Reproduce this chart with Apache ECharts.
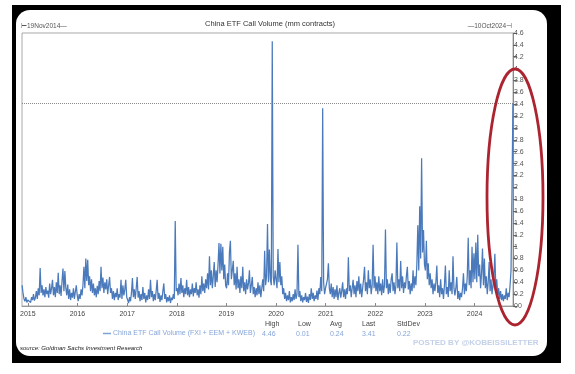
<!DOCTYPE html>
<html><head><meta charset="utf-8">
<script src="https://cdn.jsdelivr.net/npm/echarts@6/dist/echarts.min.js"></script>
<style>html,body{margin:0;padding:0;background:#fff}#c{width:575px;height:374px}</style>
</head><body><div id="c"></div>
<script>
// ---- text ----
const chartTitle = 'China ETF Call Volume (mm contracts)';
const seriesName = 'China ETF Call Volume (FXI + EEM + KWEB)';
const startLabel = '19Nov2014';
const endLabel = '10Oct2024';
const statNames = ['High', 'Low', 'Avg', 'Last', 'StdDev'];
const statValues = ['4.46', '0.01', '0.24', '3.41', '0.22'];
const lastValue = 3.41;
const sourceText = 'source: Goldman Sachs Investment Research';
const watermark = 'POSTED BY @KOBEISSILETTER';
const yMin = 0, yMax = 4.6, yStep = 0.2;
const xStart = [2014, 10, 19], xEnd = [2024, 9, 10];

// ---- weekly values (mm contracts), each year starts at its first listed date ----
const segStarts = [[2014,10,19],[2015,0,7],[2016,0,6],[2017,0,4],[2018,0,3],[2019,0,2],[2020,0,1],[2021,0,6],[2022,0,5],[2023,0,4],[2024,0,3]];
const v2014 = [0.35,0.22,0.12,0.08,0.15,0.06,0.1];
const v2015 = [0.08,0.12,0.06,0.15,0.1,0.2,0.09,0.14,0.25,0.12,0.3,0.18,0.64,0.22,0.35,0.18,0.28,0.15,0.32,0.2,0.26,0.14,0.38,0.2,0.3,0.44,0.18,0.32,0.15,0.4,0.22,0.56,0.2,0.35,0.17,0.42,0.63,0.25,0.59,0.3,0.18,0.36,0.12,0.28,0.1,0.22,0.14,0.3,0.12,0.24,0.35,0.18];
const v2016 = [0.08,0.2,0.12,0.28,0.18,0.35,0.66,0.3,0.8,0.42,0.78,0.35,0.5,0.25,0.45,0.22,0.38,0.18,0.3,0.15,0.34,0.2,0.42,0.25,0.66,0.3,0.48,0.22,0.4,0.28,0.45,0.2,0.35,0.49,0.22,0.3,0.12,0.25,0.1,0.22,0.15,0.3,0.1,0.2,0.14,0.44,0.12,0.35,0.18,0.28,0.44,0.15];
const v2017 = [0.1,0.05,0.15,0.08,0.22,0.47,0.15,0.28,0.12,0.3,0.49,0.14,0.25,0.08,0.2,0.1,0.32,0.12,0.22,0.06,0.18,0.1,0.28,0.12,0.44,0.15,0.25,0.08,0.2,0.1,0.26,0.44,0.12,0.22,0.07,0.18,0.1,0.25,0.38,0.12,0.2,0.06,0.15,0.08,0.18,0.05,0.14,0.1,0.2,0.12,1.43,0.25];
const v2018 = [0.3,0.18,0.38,0.2,0.47,0.22,0.35,0.15,0.3,0.2,0.44,0.18,0.32,0.15,0.28,0.2,0.38,0.16,0.3,0.22,0.4,0.18,0.28,0.14,0.35,0.2,0.5,0.25,0.38,0.22,0.45,0.3,0.55,0.28,0.84,0.35,0.6,0.3,0.5,0.74,0.32,0.6,0.4,0.7,1.06,0.55,1.05,0.6,1.0,0.45,0.7,0.35];
const v2019 = [0.3,0.55,0.35,0.91,1.1,0.45,0.6,0.76,0.35,0.55,0.28,0.66,0.3,0.45,0.22,0.5,0.3,0.66,0.25,0.4,0.2,0.45,0.28,0.38,0.6,0.22,0.35,0.49,0.2,0.32,0.15,0.3,0.18,0.4,0.2,0.35,0.15,0.3,0.45,0.25,0.93,0.35,0.5,1.38,0.4,0.95,0.45,0.35,4.46,0.5,0.35,0.6];
const v2020 = [0.45,0.3,0.96,0.4,0.74,0.35,0.5,0.2,0.3,0.12,0.22,0.08,0.18,0.1,0.25,0.06,0.15,0.08,0.2,0.1,0.28,0.12,0.2,1.03,0.15,0.25,0.08,0.18,0.06,0.15,0.1,0.22,0.07,0.16,0.05,0.2,0.1,0.3,0.12,0.22,0.08,0.18,0.12,0.26,0.1,0.3,0.2,0.49,0.25,3.33,0.4,0.2,0.3];
const v2021 = [0.3,0.45,0.72,0.3,0.2,0.38,0.15,0.32,0.12,0.28,0.15,0.35,0.1,0.22,0.3,0.14,0.25,0.4,0.15,0.28,0.12,0.3,0.2,0.82,0.25,0.35,0.15,0.3,0.44,0.2,0.35,0.15,0.42,0.25,0.5,0.2,0.38,0.15,0.3,0.45,0.66,0.25,0.4,0.2,0.6,0.3,0.45,0.2,0.35,1.03,0.3,0.5];
const v2022 = [0.25,0.4,0.2,0.5,0.25,0.38,0.18,0.45,0.22,0.35,1.29,0.3,0.45,0.2,0.38,0.22,0.45,0.55,0.25,0.4,0.2,0.35,1.07,0.3,0.45,0.25,0.76,0.3,0.5,0.22,0.4,0.3,0.5,0.66,0.28,0.42,0.2,0.38,0.25,0.6,0.3,0.5,0.35,0.7,1.36,0.6,1.68,0.8,2.49,0.9,1.28,0.7];
const v2023 = [0.6,1.1,0.45,0.72,0.35,0.55,0.3,0.45,0.2,0.38,0.25,0.4,0.68,0.22,0.35,0.15,0.45,0.2,0.3,0.12,0.35,0.68,0.2,0.32,0.15,0.6,0.25,0.4,0.2,0.84,0.3,0.18,0.3,0.49,0.12,0.25,0.1,0.22,0.15,0.3,0.55,0.2,0.38,0.25,0.5,1.15,0.35,0.6,0.3,1.0,0.4,0.89];
const v2024 = [0.45,1.07,0.4,1.2,0.5,0.7,0.3,0.55,0.97,0.35,0.8,0.3,0.5,0.2,0.4,0.74,0.25,0.45,0.2,0.35,0.5,0.88,0.3,0.45,0.18,0.3,0.12,0.25,0.1,0.2,0.08,0.18,0.12,0.3,0.1,0.22,0.15,0.35,0.6,1.92,3.41];
const yearValues = [v2014,v2015,v2016,v2017,v2018,v2019,v2020,v2021,v2022,v2023,v2024];

const DAY = 86400000;
const data = [];
yearValues.forEach((vals, k) => {
  const s = segStarts[k];
  const t0 = new Date(s[0], s[1], s[2], 12).getTime();
  vals.forEach((v, i) => data.push([t0 + i * 7 * DAY, v]));
});
const xMinT = new Date(xStart[0], xStart[1], xStart[2]).getTime();
const xMaxT = new Date(xEnd[0], xEnd[1], xEnd[2]).getTime();

const FONT = '"Liberation Sans", Arial, sans-serif';
const chart = echarts.init(document.getElementById('c'), null, {renderer: 'canvas'});

const statX = [265, 298, 330, 362, 397];
const graphics = [
  {type: 'rect', z: -20, shape: {x: 12, y: 5, width: 549, height: 358}, style: {fill: '#000'}},
  {type: 'rect', z: -19, shape: {x: 16, y: 10, width: 531, height: 346, r: 14}, style: {fill: '#fff'}},
  {type: 'text', x: 270, y: 24, style: {text: chartTitle, font: '7.5px ' + FONT, fill: '#333', align: 'center', verticalAlign: 'middle'}},
  {type: 'text', x: 21, y: 26.5, style: {text: '\u22A2' + startLabel + '\u2014', font: '6.5px ' + FONT, fill: '#555', align: 'left', verticalAlign: 'middle'}},
  {type: 'text', x: 512, y: 26.5, style: {text: '\u2014' + endLabel + '\u22A3', font: '6.5px ' + FONT, fill: '#555', align: 'right', verticalAlign: 'middle'}},
  {type: 'line', shape: {x1: 103, y1: 333.5, x2: 111, y2: 333.5}, style: {stroke: '#7fa2d6', lineWidth: 1.5}},
  {type: 'text', x: 113, y: 333.5, style: {text: seriesName, font: '7px ' + FONT, fill: '#86a6d9', align: 'left', verticalAlign: 'middle'}},
  {type: 'text', x: 20, y: 348.5, style: {text: sourceText, font: 'italic 6px ' + FONT, fill: '#222', align: 'left', verticalAlign: 'middle'}},
  {type: 'text', x: 413, y: 343, style: {text: watermark, font: 'bold 8px ' + FONT, fill: '#c2d0e8', align: 'left', verticalAlign: 'middle'}},
  {type: 'ellipse', z: 100, shape: {cx: 515, cy: 197, rx: 28, ry: 128}, style: {fill: 'none', stroke: '#ab2430', lineWidth: 2.8}}
];
statNames.forEach((n, i) => {
  graphics.push({type: 'text', x: statX[i], y: 324, style: {text: n, font: '7px ' + FONT, fill: '#444', align: 'left', verticalAlign: 'middle'}});
  graphics.push({type: 'text', x: statX[i] - (i === 0 ? 3 : (i === 1 ? 2 : 0)), y: 334, style: {text: statValues[i], font: '7px ' + FONT, fill: '#86a6d9', align: 'left', verticalAlign: 'middle'}});
});

const yLabelFmt = function (v) { return String(Math.round(v * 10) / 10); };

chart.setOption({
  animation: false,
  backgroundColor: '#fff',
  grid: {left: 22, right: 62, top: 33, bottom: 68, show: true, borderColor: '#a8a8a8', borderWidth: 1},
  xAxis: {
    type: 'time', min: xMinT, max: xMaxT,
    splitNumber: 10,
    minInterval: 360 * DAY,
    axisLine: {show: true, lineStyle: {color: '#999'}},
    axisTick: {show: true, inside: true, length: 3, lineStyle: {color: '#888'}},
    splitLine: {show: false},
    axisLabel: {
      fontSize: 7, color: '#444', fontFamily: FONT, margin: 5,
      showMinLabel: false, showMaxLabel: false,
      formatter: function (val) {
        const d = new Date(val);
        return (d.getMonth() === 0 && d.getDate() === 1) ? String(d.getFullYear()) : '';
      }
    }
  },
  yAxis: {
    type: 'value', position: 'right', min: yMin, max: yMax, interval: yStep,
    axisLine: {show: true, lineStyle: {color: '#888'}},
    axisTick: {show: true, length: 4, lineStyle: {color: '#666'}},
    splitLine: {show: false},
    axisLabel: {fontSize: 7, color: '#555', fontFamily: FONT, margin: 1, showMinLabel: true, showMaxLabel: true, formatter: yLabelFmt}
  },
  series: [{
    type: 'line', name: seriesName, data: data, showSymbol: false, symbol: 'none',
    lineStyle: {color: '#4a7abb', width: 1.25}, z: 5,
    markLine: {
      silent: true, symbol: ['none', 'none'], label: {show: false},
      lineStyle: {color: '#888', type: 'dotted', width: 1},
      data: [{yAxis: lastValue}]
    }
  }],
  graphic: graphics
});

// the library hides the axis-min label at the corner; place it at the scale's own pixel for yMin
const p0 = chart.convertToPixel({gridIndex: 0}, [xMaxT, yMin]);
graphics.push({type: 'text', x: p0[0] + 5, y: p0[1], style: {text: yLabelFmt(yMin), font: '7px ' + FONT, fill: '#555', align: 'left', verticalAlign: 'middle'}});
chart.setOption({graphic: graphics});
</script></body></html>
